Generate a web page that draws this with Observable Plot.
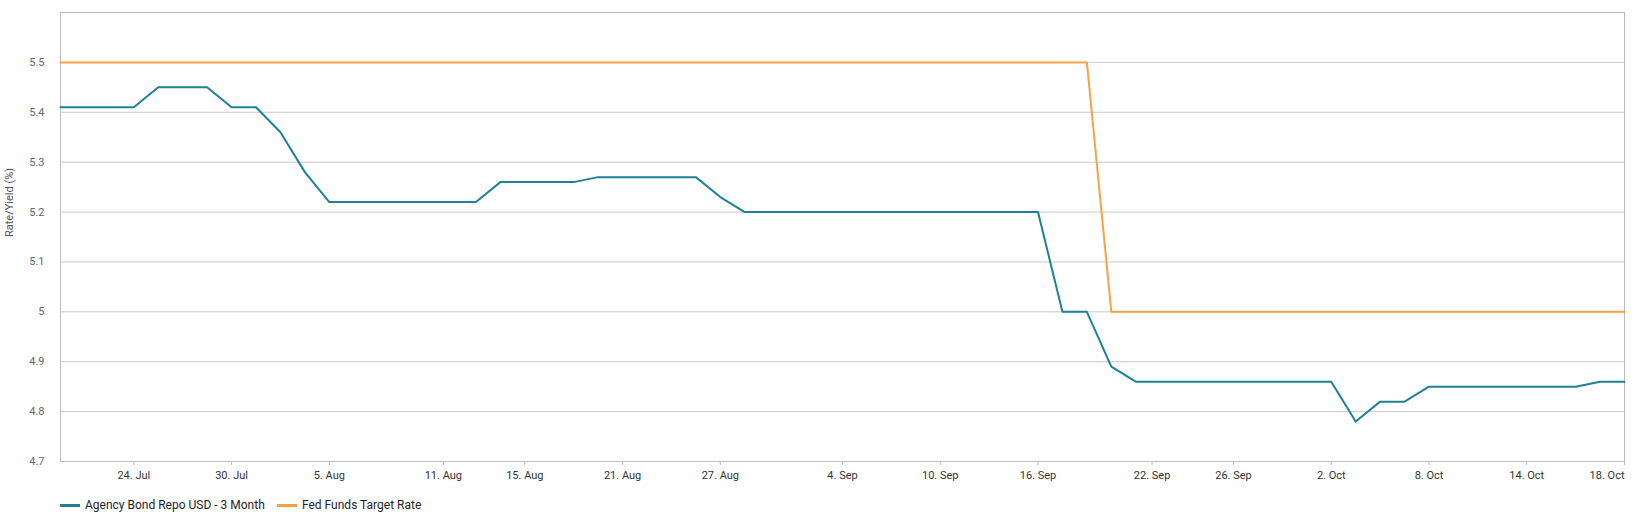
<!DOCTYPE html>
<html>
<head>
<meta charset="utf-8">
<script src="https://cdn.jsdelivr.net/npm/d3@7"></script>
<script src="https://cdn.jsdelivr.net/npm/@observablehq/plot@0.6"></script>
<style>
  html, body { margin: 0; padding: 0; background: #fff; }
  #chart { position: relative; width: 1639px; height: 523px; overflow: hidden; font-family: Roboto, "Noto Sans", sans-serif; }
  #chart svg { display: block; }
  #legend { position: relative; width: 1639px; height: 33px; }
  .item { position: absolute; top: 7px; height: 16px; display: flex; align-items: center; font-size: 12px; color: #1e1e28; white-space: nowrap; }
  .sw { width: 20px; height: 3px; margin-right: 5px; }
</style>
</head>
<body>
<div id="chart"></div>
<script>
// Business days (ordinal axis: weekends and 2 Sep holiday absent)
const dates = [
  "2024-07-19","2024-07-22","2024-07-23","2024-07-24","2024-07-25","2024-07-26","2024-07-29","2024-07-30","2024-07-31",
  "2024-08-01","2024-08-02","2024-08-05","2024-08-06","2024-08-07","2024-08-08","2024-08-09","2024-08-12","2024-08-13",
  "2024-08-14","2024-08-15","2024-08-16","2024-08-19","2024-08-20","2024-08-21","2024-08-22","2024-08-23","2024-08-26",
  "2024-08-27","2024-08-28","2024-08-29","2024-08-30","2024-09-03","2024-09-04","2024-09-05","2024-09-06","2024-09-09",
  "2024-09-10","2024-09-11","2024-09-12","2024-09-13","2024-09-16","2024-09-17","2024-09-18","2024-09-19","2024-09-20",
  "2024-09-23","2024-09-24","2024-09-25","2024-09-26","2024-09-27","2024-09-30","2024-10-01","2024-10-02","2024-10-03",
  "2024-10-04","2024-10-07","2024-10-08","2024-10-09","2024-10-10","2024-10-11","2024-10-14","2024-10-15","2024-10-16",
  "2024-10-17","2024-10-18"
];

// Agency Bond Repo USD - 3 Month (%)
const repo = [
  5.41,5.41,5.41,5.41,5.45,5.45,5.45,5.41,5.41,
  5.36,5.28,5.22,5.22,5.22,5.22,5.22,5.22,5.22,
  5.26,5.26,5.26,5.26,5.27,5.27,5.27,5.27,5.27,
  5.23,5.20,5.20,5.20,5.20,5.20,5.20,5.20,5.20,
  5.20,5.20,5.20,5.20,5.20,5.00,5.00,4.89,4.86,
  4.86,4.86,4.86,4.86,4.86,4.86,4.86,4.86,4.78,
  4.82,4.82,4.85,4.85,4.85,4.85,4.85,4.85,4.85,
  4.86,4.86
];

// Fed Funds Target Rate (%)
const fedFunds = [
  5.5,5.5,5.5,5.5,5.5,5.5,5.5,5.5,5.5,
  5.5,5.5,5.5,5.5,5.5,5.5,5.5,5.5,5.5,
  5.5,5.5,5.5,5.5,5.5,5.5,5.5,5.5,5.5,
  5.5,5.5,5.5,5.5,5.5,5.5,5.5,5.5,5.5,
  5.5,5.5,5.5,5.5,5.5,5.5,5.5,5.0,5.0,
  5.0,5.0,5.0,5.0,5.0,5.0,5.0,5.0,5.0,
  5.0,5.0,5.0,5.0,5.0,5.0,5.0,5.0,5.0,
  5.0,5.0
];

const seriesNames = ["Agency Bond Repo USD - 3 Month", "Fed Funds Target Rate"];
const seriesColors = ["#1f8196", "#f5a443"];

const tickDates = ["2024-07-24","2024-07-30","2024-08-05","2024-08-11","2024-08-15","2024-08-21","2024-08-27",
  "2024-09-04","2024-09-10","2024-09-16","2024-09-22","2024-09-26","2024-10-02","2024-10-08","2024-10-14","2024-10-18"];
const tickLabels = ["24. Jul","30. Jul","5. Aug","11. Aug","15. Aug","21. Aug","27. Aug",
  "4. Sep","10. Sep","16. Sep","22. Sep","26. Sep","2. Oct","8. Oct","14. Oct","18. Oct"];

const yTicks = [4.7, 4.8, 4.9, 5, 5.1, 5.2, 5.3, 5.4, 5.5];
const yLabel = "Rate/Yield (%)";

// Ordinal positioning (like a stock chart's ordinal axis)
const parse = d3.utcParse("%Y-%m-%d");
const times = dates.map(parse);
function ordinalPos(s) {
  const t = parse(s);
  const i = d3.bisectLeft(times, t);
  if (i < times.length && +times[i] === +t) return i;
  const a = times[i - 1], b = times[i];
  return i - 1 + (t - a) / (b - a);
}
const tickPos = tickDates.map(ordinalPos);
const labelByPos = new Map(tickPos.map((p, i) => [p, tickLabels[i]]));
const lastPos = tickPos[tickPos.length - 1];

const rows = [];
dates.forEach((d, i) => {
  rows.push({i, date: d, value: repo[i], series: seriesNames[0]});
});
dates.forEach((d, i) => {
  rows.push({i, date: d, value: fedFunds[i], series: seriesNames[1]});
});

const plot = Plot.plot({
  width: 1639,
  height: 490,
  marginLeft: 60,
  marginRight: 15,
  marginTop: 12,
  marginBottom: 29,
  style: {fontFamily: "Roboto, 'Noto Sans', sans-serif", fontSize: "11px", background: "#fff"},
  x: {type: "linear", domain: [0, dates.length - 1]},
  y: {domain: [4.7, 5.6]},
  color: {domain: seriesNames, range: seriesColors},
  marks: [
    Plot.gridY(yTicks, {stroke: "#c9c9c9", strokeOpacity: 1}),
    Plot.frame({stroke: "#bdbdbd"}),
    Plot.axisY(yTicks, {tickSize: 0, tickPadding: 16, fill: "#666", label: null, tickFormat: d => `${d}`}),
    Plot.text([yLabel], {text: d => d, frameAnchor: "left", rotate: -90, dx: -51, fill: "#555", fontSize: 11}),
    Plot.axisX(tickPos, {tickSize: 4, stroke: "#bdbdbd", fill: "#333", label: null, tickPadding: 6,
      tickFormat: d => d === lastPos ? "" : labelByPos.get(d)}),
    Plot.text([lastPos], {x: d => d, text: () => labelByPos.get(lastPos), frameAnchor: "bottom", textAnchor: "end", lineAnchor: "top", dy: 10, fill: "#333", fontSize: 11}),
    Plot.line(rows.filter(r => r.series === seriesNames[1]), {x: "i", y: "value", stroke: "series", strokeWidth: 2}),
    Plot.line(rows.filter(r => r.series === seriesNames[0]), {x: "i", y: "value", stroke: "series", strokeWidth: 2})
  ]
});
document.getElementById("chart").appendChild(plot);

const legend = document.createElement("div");
legend.id = "legend";
const lefts = [60, 277];
seriesNames.forEach((name, k) => {
  const item = document.createElement("div");
  item.className = "item";
  item.style.left = lefts[k] + "px";
  const sw = document.createElement("span");
  sw.className = "sw";
  sw.style.background = seriesColors[k];
  const tx = document.createElement("span");
  tx.textContent = name;
  item.appendChild(sw);
  item.appendChild(tx);
  legend.appendChild(item);
});
document.getElementById("chart").appendChild(legend);
</script>
</body>
</html>
